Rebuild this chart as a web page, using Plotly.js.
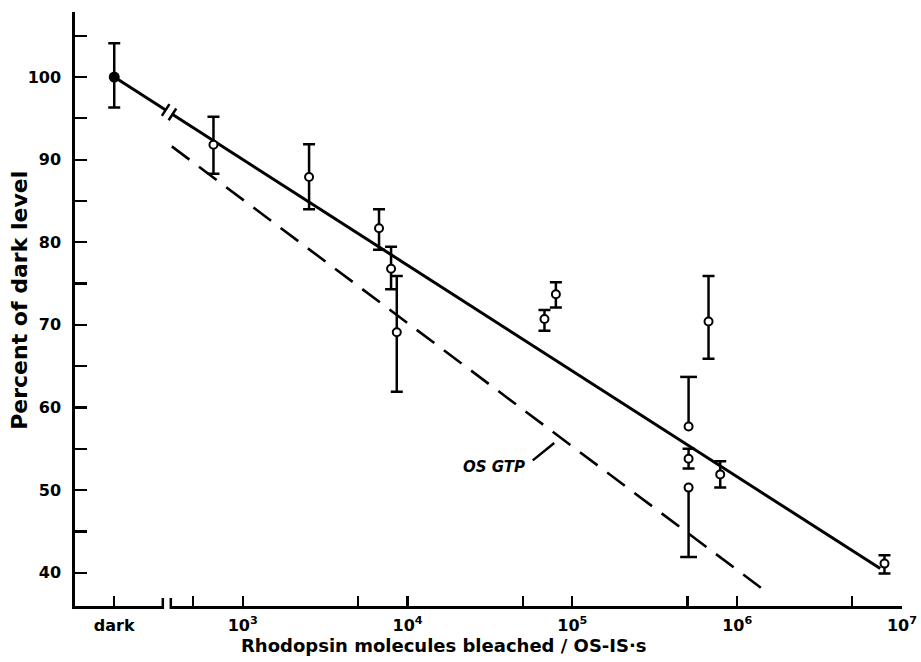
<!DOCTYPE html>
<html>
<head>
<meta charset="utf-8">
<script src="https://cdn.plot.ly/plotly-3.0.1.min.js"></script>
<style>
html,body{margin:0;padding:0;background:#fff;}
#chart{width:921px;height:662px;}
</style>
</head>
<body>
<div id="chart"></div>
<script>
// ---- tick labels / categories ----
const darkPosition = 166;                 // where the "dark" column sits on the log axis
const xTickValues = [darkPosition, 1e3, 1e4, 1e5, 1e6, 1e7];
const xTickLabels = ['dark', '10<sup>3</sup>', '10<sup>4</sup>', '10<sup>5</sup>', '10<sup>6</sup>', '10<sup>7</sup>'];
const xMinorTickValues = [500, 5e3, 5e4, 5e5, 5e6];
const yTickValues = [40, 45, 50, 55, 60, 65, 70, 75, 80, 85, 90, 95, 100, 105];
const yTickLabels = ['40', '', '50', '', '60', '', '70', '', '80', '', '90', '', '100', ''];
const xAxisBreakAt = 346;
const lineBreakAt = 357;

// ---- dark level point ----
const darkY = [100];
const darkErrPlus = [4.1];
const darkErrMinus = [3.7];

// ---- bleached measurements ----
const bleached = [664, 2525, 6710, 7940, 8600, 67700, 79400, 507000, 507000, 507000, 670000, 789000, 7830000];
const percent  = [91.8, 87.9, 81.7, 76.8, 69.1, 70.7, 73.7, 57.7, 53.8, 50.3, 70.4, 51.9, 41.1];
const errPlus  = [3.4, 3.95, 2.3, 2.65, 6.8, 1.1, 1.45, 6.0, 1.2, 0, 5.5, 1.6, 1.0];
const errMinus = [3.5, 3.9, 2.6, 2.5, 7.2, 1.4, 1.6, 0, 1.2, 8.4, 4.5, 1.6, 1.2];

// ---- fitted lines ----
const fitX = [darkPosition, 7.38e6];
const fitY = [100, 40.5];
const gtpX = [371, 1.41e6];
const gtpY = [91.6, 38.1];
const gtpLabel = 'OS GTP';
const gtpLabelAt = {x: 52700, y: 52.8};
const gtpLeaderX = [57500, 77600];
const gtpLeaderY = [53.6, 55.7];

const xTitle = 'Rhodopsin molecules bleached / OS-IS\u00b7s';
const yTitle = 'Percent of dark level';

const lg = v => Math.log10(v);
const FONT = 'DejaVu Sans';

// split points: two-sided error bars use Plotly error bars, one-sided drawn as stem + cap
const twoSided = [], oneSided = [];
bleached.forEach((v, i) => ((errPlus[i] > 0 && errMinus[i] > 0) ? twoSided : oneSided).push(i));
const stemX = [], stemY = [], capX = [], capY = [];
oneSided.forEach(i => {
  const end = errPlus[i] > 0 ? percent[i] + errPlus[i] : percent[i] - errMinus[i];
  stemX.push(lg(bleached[i]), lg(bleached[i]), null);
  stemY.push(percent[i], end, null);
  capX.push(lg(bleached[i]));
  capY.push(end);
});

const openMarker = {symbol: 'circle', size: 8, color: '#fff', line: {color: '#000', width: 2}};

const traces = [
  {
    x: fitX.map(lg), y: fitY, mode: 'lines', type: 'scatter',
    line: {color: '#000', width: 3}, hoverinfo: 'skip'
  },
  {
    x: gtpX.map(lg), y: gtpY, mode: 'lines', type: 'scatter',
    line: {color: '#000', width: 2.6, dash: '22px,12px'}, hoverinfo: 'skip'
  },
  {
    x: stemX, y: stemY, mode: 'lines', type: 'scatter',
    line: {color: '#000', width: 2.5}, hoverinfo: 'skip'
  },
  {
    x: capX, y: capY, mode: 'markers', type: 'scatter',
    marker: {symbol: 'line-ew', size: 12, line: {color: '#000', width: 2.5}}, hoverinfo: 'skip'
  },
  {
    x: [darkPosition].map(lg), y: darkY, mode: 'markers', type: 'scatter',
    marker: {symbol: 'circle', size: 11, color: '#000'},
    error_y: {type: 'data', symmetric: false, array: darkErrPlus, arrayminus: darkErrMinus,
              color: '#000', thickness: 2.5, width: 6}
  },
  {
    x: twoSided.map(i => lg(bleached[i])), y: twoSided.map(i => percent[i]),
    mode: 'markers', type: 'scatter', marker: openMarker,
    error_y: {type: 'data', symmetric: false,
              array: twoSided.map(i => errPlus[i]), arrayminus: twoSided.map(i => errMinus[i]),
              color: '#000', thickness: 2.5, width: 6}
  },
  {
    x: oneSided.map(i => lg(bleached[i])), y: oneSided.map(i => percent[i]),
    mode: 'markers', type: 'scatter', marker: openMarker
  }
];

// break marks
const fitPos = (lg(lineBreakAt) - lg(fitX[0])) / (lg(fitX[1]) - lg(fitX[0]));
const lineBreakY = fitY[0] + (fitY[1] - fitY[0]) * fitPos;

const shapes = [
  // gap in x axis line
  {type: 'rect', layer: 'above', xref: 'x', yref: 'paper', xsizemode: 'pixel', ysizemode: 'pixel',
   xanchor: lg(xAxisBreakAt), yanchor: 0, x0: -4, x1: 4, y0: -3, y1: 3,
   fillcolor: '#fff', line: {width: 0}},
  {type: 'line', layer: 'above', xref: 'x', yref: 'paper', xsizemode: 'pixel', ysizemode: 'pixel',
   xanchor: lg(xAxisBreakAt), yanchor: 0, x0: -4, x1: -4, y0: -3, y1: 8,
   line: {color: '#000', width: 2.5}},
  {type: 'line', layer: 'above', xref: 'x', yref: 'paper', xsizemode: 'pixel', ysizemode: 'pixel',
   xanchor: lg(xAxisBreakAt), yanchor: 0, x0: 4, x1: 4, y0: -3, y1: 8,
   line: {color: '#000', width: 2.5}},
  // gap in fitted line
  {type: 'line', layer: 'above', xref: 'x', yref: 'y', xsizemode: 'pixel', ysizemode: 'pixel',
   xanchor: lg(lineBreakAt), yanchor: lineBreakY, x0: -3.4, x1: 3.4, y0: 2.2, y1: -2.2,
   line: {color: '#fff', width: 7}},
  {type: 'line', layer: 'above', xref: 'x', yref: 'y', xsizemode: 'pixel', ysizemode: 'pixel',
   xanchor: lg(lineBreakAt), yanchor: lineBreakY, x0: -7.2, x1: 0.4, y0: -3.7, y1: 8.1,
   line: {color: '#000', width: 2.5}},
  {type: 'line', layer: 'above', xref: 'x', yref: 'y', xsizemode: 'pixel', ysizemode: 'pixel',
   xanchor: lg(lineBreakAt), yanchor: lineBreakY, x0: -0.4, x1: 7.2, y0: -8.1, y1: 3.7,
   line: {color: '#000', width: 2.5}},
  // leader for the OS GTP label
  {type: 'line', xref: 'x', yref: 'y',
   x0: lg(gtpLeaderX[0]), x1: lg(gtpLeaderX[1]), y0: gtpLeaderY[0], y1: gtpLeaderY[1],
   line: {color: '#000', width: 2.5}}
];

const layout = {
  width: 921, height: 662,
  margin: {l: 75, r: 19, t: 12, b: 56},
  paper_bgcolor: '#fff', plot_bgcolor: '#fff',
  showlegend: false,
  font: {family: FONT, color: '#000'},
  xaxis: {
    type: 'linear', range: [1.982, 7.0], showgrid: false, zeroline: false,
    showline: true, linecolor: '#000', linewidth: 2.7,
    tickmode: 'array',
    tickvals: xTickValues.concat(xMinorTickValues).map(lg),
    ticktext: xTickLabels.concat(xMinorTickValues.map(() => ' ')),
    ticks: 'inside', ticklen: 10, tickwidth: 2.2, tickcolor: '#000',
    ticklabelstandoff: 3,
    tickfont: {family: FONT, size: 16, weight: 'bold', color: '#000'},
    fixedrange: true
  },
  yaxis: {
    range: [35.97, 107.87], showgrid: false, zeroline: false,
    showline: true, linecolor: '#000', linewidth: 2.7,
    tickmode: 'array', tickvals: yTickValues, ticktext: yTickLabels,
    ticks: 'inside', ticklen: 12, tickwidth: 2.2, tickcolor: '#000',
    ticklabelstandoff: 8,
    tickfont: {family: FONT, size: 16, weight: 'bold', color: '#000'},
    fixedrange: true
  },
  shapes: shapes,
  annotations: [
    {xref: 'paper', yref: 'paper', x: 0.446, y: -0.066, xanchor: 'center', yanchor: 'middle',
     showarrow: false, text: xTitle,
     font: {family: FONT, size: 18, weight: 'bold', color: '#000'}},
    {xref: 'paper', yref: 'paper', x: -0.068, y: 0.515, xanchor: 'center', yanchor: 'middle',
     showarrow: false, text: yTitle, textangle: -90,
     font: {family: FONT, size: 22, weight: 'bold', color: '#000'}},
    {xref: 'x', yref: 'y', x: lg(gtpLabelAt.x), y: gtpLabelAt.y, xanchor: 'right', yanchor: 'middle',
     showarrow: false, text: '<i>' + gtpLabel + '</i>',
     font: {family: FONT, size: 15, weight: 'bold', color: '#000'}}
  ]
};

Plotly.newPlot('chart', traces, layout, {displayModeBar: false, staticPlot: true});
</script>
</body>
</html>
